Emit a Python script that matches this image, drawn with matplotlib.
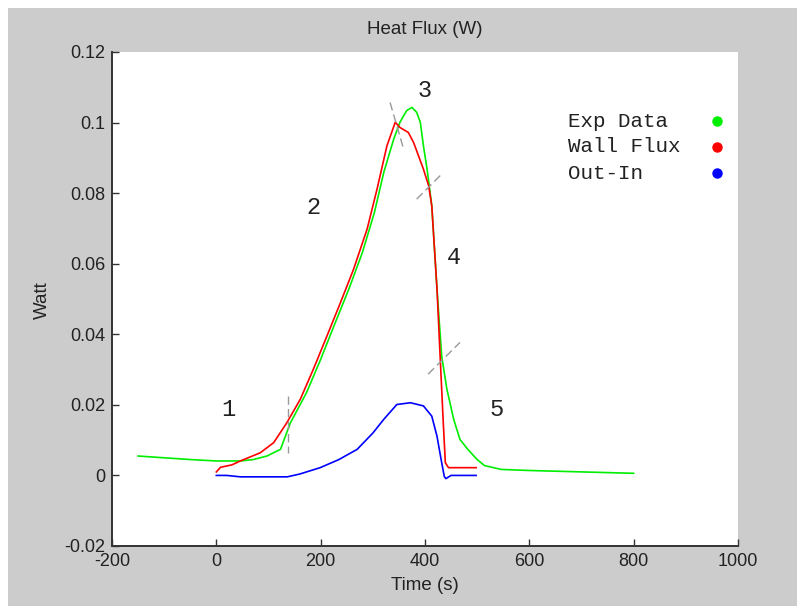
import matplotlib.pyplot as plt
from matplotlib.patches import Rectangle

plt.rcParams['axes.unicode_minus'] = False

# Exp Data (green)
exp_t = [-150, -100, -50, 0, 46, 71, 97, 123, 142, 173, 200, 228, 254, 280, 303, 321, 340,
         352, 359, 365, 375, 384, 391, 397, 404, 413, 423, 432, 442, 455, 467, 482, 500, 514,
         546, 600, 700, 800]
exp_v = [0.0055, 0.0050, 0.0045, 0.0041, 0.0041, 0.0045, 0.0055, 0.0074, 0.0149, 0.0235,
         0.0329, 0.0433, 0.0528, 0.0632, 0.0745, 0.0859, 0.0953, 0.1001, 0.1019, 0.1034,
         0.1043, 0.1029, 0.1001, 0.0934, 0.0868, 0.0764, 0.0528, 0.0338, 0.0244, 0.0159,
         0.0102, 0.0074, 0.0045, 0.0028, 0.0017, 0.0014, 0.0010, 0.0006]

# Wall Flux (red)
wall_t = [0, 8, 30, 46, 84, 110, 135, 161, 186, 212, 238, 263, 289, 308, 327, 343, 352, 368,
          378, 397, 407, 413, 423, 429, 435, 439, 445, 475, 498]
wall_v = [0.0010, 0.0023, 0.0030, 0.0041, 0.0064, 0.0093, 0.0149, 0.0216, 0.0301, 0.0395,
          0.0490, 0.0584, 0.0698, 0.0811, 0.0934, 0.1001, 0.0986, 0.0972, 0.0944, 0.0868,
          0.0821, 0.0764, 0.0528, 0.0338, 0.0150, 0.0036, 0.0022, 0.0022, 0.0022]

# Out-In (blue)
out_t = [0, 20, 46, 100, 136, 160, 199, 235, 270, 300, 321, 346, 372, 397, 413, 423, 432,
         437, 440, 450, 498]
out_v = [0.0, 0.0, -0.0004, -0.0004, -0.0004, 0.0004, 0.0022, 0.0045, 0.0074, 0.0120,
         0.0159, 0.0201, 0.0206, 0.0197, 0.0168, 0.0111, 0.0036, -0.0003, -0.0009, 0.0,
         0.0]

# phase labels and separators
phase_names = ['1', '2', '3', '4', '5']
phase_t = [23, 186, 400, 456, 537]
phase_v = [0.0187, 0.076, 0.109, 0.0618, 0.0187]
sep_t = [[138, 138], [333, 359], [384, 432], [406, 467]]
sep_v = [[0.0225, 0.0064], [0.1057, 0.0925], [0.0783, 0.0854], [0.0287, 0.0377]]

legend_names = ['Exp Data', 'Wall Flux', 'Out-In']
colors = ['#00ee00', '#ff0000', '#0000ff']

fig = plt.figure(figsize=(7.97, 6.06), dpi=100, facecolor='white')
fig.patches.append(Rectangle((8/797, 0), 1, 1 - 8/606, transform=fig.transFigure,
                             facecolor='#cccccc', edgecolor='none', zorder=-10))

ax = fig.add_axes([112/797, 1 - 546/606, 626/797, 494/606])
ax.set_facecolor('white')

ax.plot(exp_t, exp_v, color=colors[0], lw=1.2)
ax.plot(wall_t, wall_v, color=colors[1], lw=1.2)
ax.plot(out_t, out_v, color=colors[2], lw=1.2)

for xs, ys in zip(sep_t, sep_v):
    ax.plot(xs, ys, color='#999999', lw=1, ls=(0, (6, 3)))

for n, x, y in zip(phase_names, phase_t, phase_v):
    ax.text(x, y, n, fontsize=17, family='Liberation Mono', color='#222222',
            ha='center', va='center')

legend_y = [0.860, 0.808, 0.755]
for name, c, ly in zip(legend_names, colors, legend_y):
    ax.text(0.729, ly, name, transform=ax.transAxes, fontsize=15,
            family='Liberation Mono', color='#222222', va='center', ha='left')
    ax.plot([0.966], [ly], marker='o', ms=6.5, color=c, transform=ax.transAxes,
            clip_on=False)

ax.set_xlim(-200, 1000)
ax.set_ylim(-0.02, 0.12)
ax.set_xticks([-200, 0, 200, 400, 600, 800, 1000])
ax.set_yticks([-0.02, 0, 0.02, 0.04, 0.06, 0.08, 0.1, 0.12])
ax.set_yticklabels(['-0.02', '0', '0.02', '0.04', '0.06', '0.08', '0.1', '0.12'])

for s in ['top', 'right']:
    ax.spines[s].set_visible(False)
for s in ['left', 'bottom']:
    ax.spines[s].set_color('#333333')
    ax.spines[s].set_linewidth(1.4)

ax.tick_params(direction='in', length=5, width=1, color='#333333',
               labelsize=13, labelcolor='#222222')
ax.tick_params(axis='x', pad=5)
ax.tick_params(axis='y', pad=5)
for lab in ax.get_xticklabels() + ax.get_yticklabels():
    lab.set_family('Liberation Sans')

fig.text(425/797, 1 - 30/606, 'Heat Flux (W)', ha='center', va='center',
         fontsize=13.5, family='Liberation Sans', color='#222222')
fig.text(425/797, 1 - 585/606, 'Time (s)', ha='center', va='center',
         fontsize=13.5, family='Liberation Sans', color='#222222')
fig.text(42/797, 1 - 300/606, 'Watt', ha='center', va='center', rotation=90,
         fontsize=13.5, family='Liberation Sans', color='#222222')

fig.savefig('out.png', dpi=100, facecolor=fig.get_facecolor())
